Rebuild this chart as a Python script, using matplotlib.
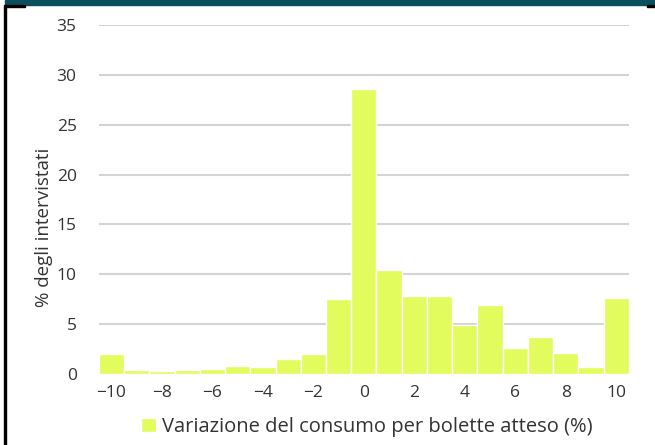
import matplotlib.pyplot as plt
from matplotlib.patches import Rectangle

# variazione attesa (%) e quota di intervistati
variazione = list(range(-10, 11))
quota = [2.0, 0.4, 0.3, 0.35, 0.45, 0.8, 0.65, 1.5, 2.0, 7.5, 28.6,
         10.4, 7.8, 7.8, 4.9, 6.9, 2.6, 3.7, 2.1, 0.7, 7.65]
yticks = [0, 5, 10, 15, 20, 25, 30, 35]
xticks = [-10, -8, -6, -4, -2, 0, 2, 4, 6, 8, 10]

plt.rcParams['font.family'] = ['Open Sans', 'DejaVu Sans']
txt = '#333333'

fig = plt.figure(figsize=(6.55, 4.45), dpi=100)
ax = fig.add_axes([0.151, 0.1596, 0.809, 0.7842])

ax.bar(variazione, quota, width=1.0, color='#e2fc5e', edgecolor='white',
       linewidth=1.0, zorder=2, label='Variazione del consumo per bolette atteso (%)')

ax.set_xlim(-10.5, 10.5)
ax.set_ylim(0, 35)
ax.set_yticks(yticks)
ax.set_xticks(xticks)
ax.set_xticklabels([str(t).replace('-', '\u2212') for t in xticks])
ax.tick_params(length=0, labelsize=12.5, colors=txt)
ax.tick_params(axis='y', pad=16)
ax.tick_params(axis='x', pad=8)
ax.grid(axis='y', color='#d4d4d4', linewidth=1.5, zorder=0)
for s in ax.spines.values():
    s.set_visible(False)
ax.set_ylabel('% degli intervistati', fontsize=13.5, color=txt)
ax.yaxis.set_label_coords(-0.087, 0.42)

leg = ax.legend(loc='upper center', bbox_to_anchor=(0.505, -0.1), frameon=False,
                fontsize=14.5, handlelength=0.75, handleheight=0.75, handletextpad=0.3,
                borderaxespad=0)
for t in leg.get_texts():
    t.set_color(txt)

# cornice
W, H = 655, 445
fig.patches.append(Rectangle((5 / W, 1 - 5 / H), 1, 5 / H, transform=fig.transFigure,
                             color='#0b4f5c', zorder=5))
fig.patches.append(Rectangle((4 / W, 0), 2 / W, 1 - 5 / H, transform=fig.transFigure,
                             color='black', zorder=5))
fig.patches.append(Rectangle((5 / W, 1 - 7 / H), 20 / W, 2 / H, transform=fig.transFigure,
                             color='black', zorder=5))
fig.patches.append(Rectangle((647 / W, 1 - 7 / H), 8 / W, 2 / H, transform=fig.transFigure,
                             color='black', zorder=5))

fig.savefig('out.png', dpi=100)
